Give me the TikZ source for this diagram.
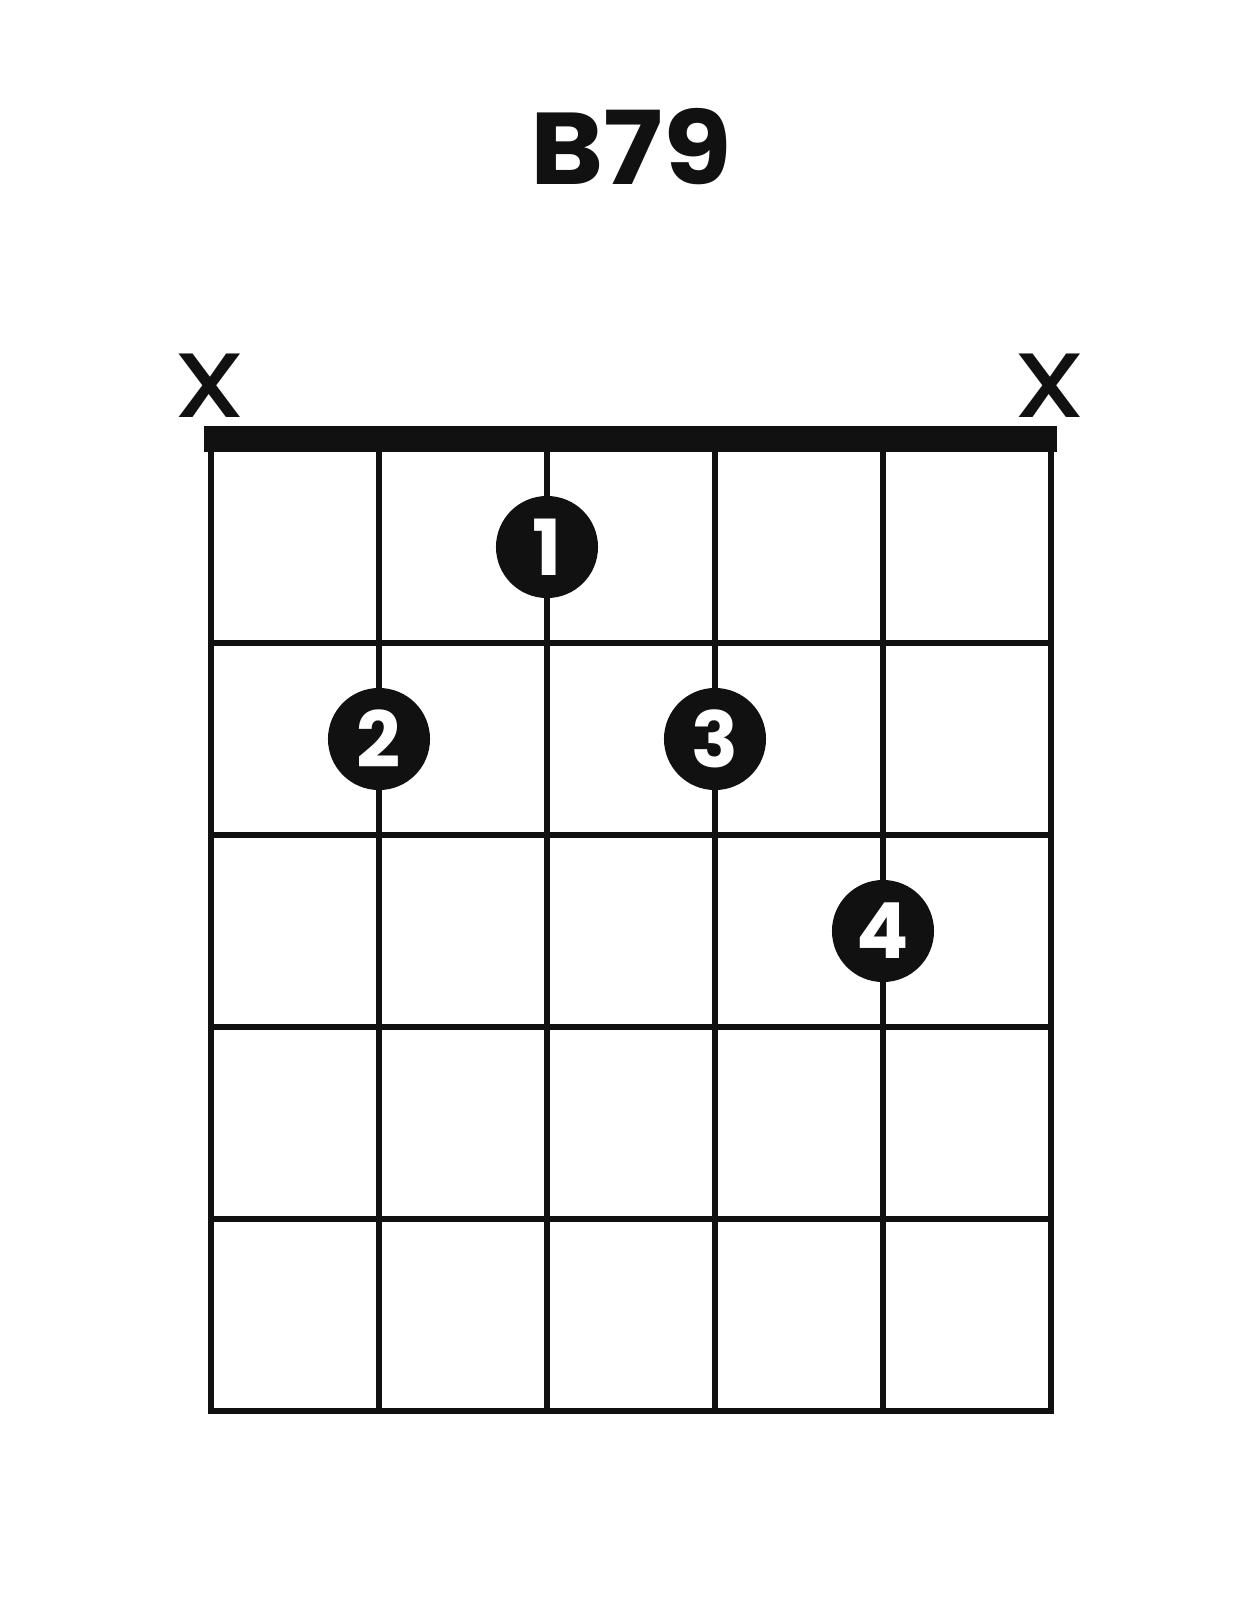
\documentclass[tikz,border=0pt]{standalone}
\usepackage{fontspec}
\setmainfont{Poppins}[BoldFont={* Bold}]
\newfontfamily\markfont{Poppins Medium}
\usepackage{tikz}
\definecolor{ink}{HTML}{111111}
\tikzstyle{fingerdot}=[circle,draw=none,fill=ink,text=white,
                       inner sep=0pt,minimum size=1.02cm,
                       font=\fontsize{22}{22}\selectfont\bfseries]
\tikzstyle{mutemark}=[inner sep=0pt,text=ink,
                      font=\fontsize{26}{26}\selectfont\markfont]
\tikzstyle{gridline}=[draw=ink,line width=0.06cm,line cap=rect]

\begin{document}
\begin{tikzpicture}[x=0.01cm,y=-0.01cm]
    \useasboundingbox (0,0) rectangle (1260,1620);
    % title
    \node (title) at (631,147) [inner sep=0pt,text=ink,
      font=\fontsize{29}{29}\selectfont\bfseries] {\scalebox{1.09}[1]{B79}};
    % muted strings
    \node (m1) at (210,386) [mutemark]{\scalebox{1.2}[1]{X}};
    \node (m6) at (1050,386) [mutemark]{\scalebox{1.2}[1]{X}};
    % nut
    \fill[ink] (204,426) rectangle (1057,452);
    % strings
    \draw[gridline] (211,451) -- (211,1411) (379,451) -- (379,1411)
                    (547,451) -- (547,1411) (715,451) -- (715,1411)
                    (883,451) -- (883,1411) (1051,451) -- (1051,1411);
    % frets
    \draw[gridline] (211,643) -- (1051,643) (211,835) -- (1051,835)
                    (211,1027) -- (1051,1027) (211,1219) -- (1051,1219)
                    (211,1411) -- (1051,1411);
    % fingers
    \node (f1) at (547,547) [fingerdot]{1};
    \node (f2) at (379,739) [fingerdot]{2};
    \node (f3) at (715,739) [fingerdot]{3};
    \node (f4) at (883,931) [fingerdot]{4};
  \end{tikzpicture}
\end{document}
